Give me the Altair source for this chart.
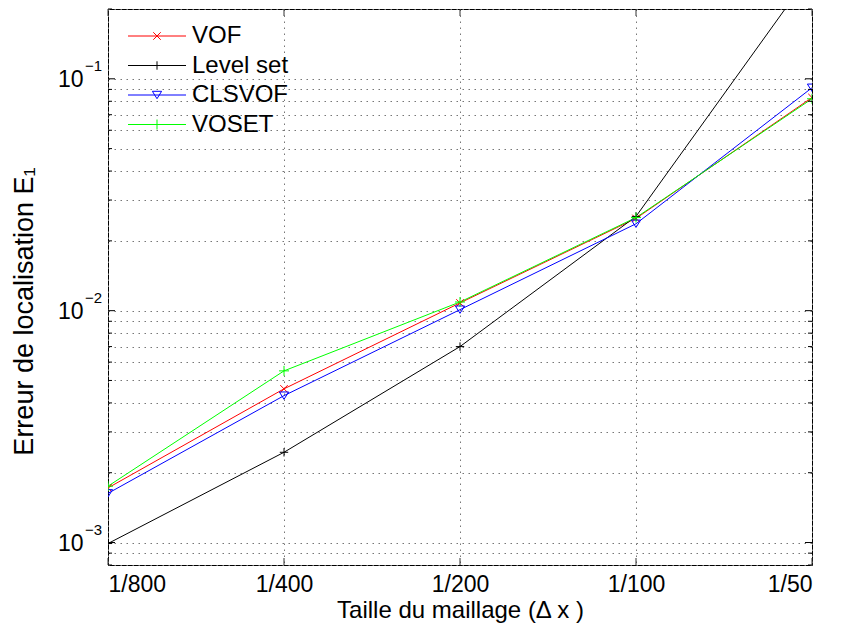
import altair as alt
import pandas as pd

# ---- data ----
X_VALUES = [1/800, 1/400, 1/200, 1/100, 1/50]
SERIES = ["VOF", "Level set", "CLSVOF", "VOSET"]
VOF = [0.00172, 0.0046, 0.0108, 0.0250, 0.0830]
LEVEL_SET = [0.00099, 0.00245, 0.0070, 0.0255, 0.29]
CLSVOF = [0.00163, 0.0043, 0.0101, 0.0237, 0.0915]
VOSET = [0.00175, 0.0055, 0.0109, 0.0252, 0.0820]

COLORS = ["#ff0000", "#000000", "#0000ff", "#00ff00"]
SHAPES = ["M-1,-1L1,1M-1,1L1,-1", "M-1,0L1,0M0,-1L0,1",
          "M-1,-0.8L1,-0.8L0,0.8Z", "M-1,0L1,0M0,-1L0,1"]
SIZES = [56, 100, 121, 100]

Y_MAJOR = [0.001, 0.01, 0.1]
Y_EXP = ["\u22123", "\u22122", "\u22121"]
Y_MINOR = [0.0008, 0.0009,
           0.002, 0.003, 0.004, 0.005, 0.006, 0.007, 0.008, 0.009,
           0.02, 0.03, 0.04, 0.05, 0.06, 0.07, 0.08, 0.09, 0.2]
X_DOMAIN = [1/800, 1/50]
Y_DOMAIN = [0.0008, 0.2]

W, H = 704, 556
FONT = "Liberation Sans"

rows = []
for name, vals in zip(SERIES, [VOF, LEVEL_SET, CLSVOF, VOSET]):
    for xv, yv in zip(X_VALUES, vals):
        rows.append({"x": xv, "y": yv, "series": name})
df = pd.DataFrame(rows)

x_scale = alt.Scale(type="log", base=2, domain=X_DOMAIN, nice=False)
y_scale = alt.Scale(type="log", domain=Y_DOMAIN, nice=False)
color = alt.Color("series:N", scale=alt.Scale(domain=SERIES, range=COLORS), legend=None)
shape = alt.Shape("series:N", scale=alt.Scale(domain=SERIES, range=SHAPES), legend=None)
size = alt.Size("series:N", scale=alt.Scale(domain=SERIES, range=SIZES), legend=None)

x_axis = alt.Axis(values=X_VALUES, labelExpr="'1/' + round(1/datum.value)",
                  grid=True, ticks=False, domain=False, labelFont=FONT, labelFontSize=23,
                  labelColor="black", labelPadding=8,
                  title="Taille du maillage (\u0394 x )", titleFont=FONT, titleFontSize=24,
                  titleFontWeight="normal", titleColor="black", titleX=352, titleY=52,
                  titleAlign="center", titleBaseline="alphabetic")
y_axis = alt.Axis(values=Y_MAJOR + Y_MINOR, labels=False, ticks=False, domain=False, grid=True,
                  title="Erreur de localisation E\u2081", titleFont=FONT, titleFontSize=27,
                  titleFontWeight="normal", titleColor="black", titleX=-76, titleY=302,
                  titleAlign="center", titleBaseline="alphabetic", titleAngle=270)

lines = alt.Chart(df).mark_line(strokeWidth=1, clip=True).encode(
    x=alt.X("x:Q", scale=x_scale, axis=x_axis),
    y=alt.Y("y:Q", scale=y_scale, axis=y_axis),
    color=color,
    detail="series:N",
)
points = alt.Chart(df).mark_point(filled=False, strokeWidth=1, opacity=1, clip=True).encode(
    x=alt.X("x:Q", scale=x_scale),
    y=alt.Y("y:Q", scale=y_scale),
    color=color, shape=shape, size=size,
)

ymaj = pd.DataFrame({"y": Y_MAJOR, "exp": Y_EXP})
ymin = pd.DataFrame({"y": Y_MINOR})
xt = pd.DataFrame({"x": X_VALUES})

def ytick(data, x0, x1):
    return alt.Chart(data).mark_rule(color="black", strokeWidth=1).encode(
        y=alt.Y("y:Q", scale=y_scale), x=alt.value(x0), x2=alt.value(x1))

def xtick(y0, y1):
    return alt.Chart(xt).mark_rule(color="#333333", strokeWidth=1).encode(
        x=alt.X("x:Q", scale=x_scale), y=alt.value(y0), y2=alt.value(y1))

ticks = [ytick(ymaj, 0, 7), ytick(ymaj, W - 7, W), ytick(ymin, 0, 4), ytick(ymin, W - 4, W),
         xtick(H - 7, H), xtick(0, 7)]

lab10 = alt.Chart(ymaj).mark_text(align="right", baseline="alphabetic", dy=8.5,
                                  font=FONT, fontSize=23, color="black").encode(
    y=alt.Y("y:Q", scale=y_scale), x=alt.value(-24.5), text=alt.value("10"))
labexp = alt.Chart(ymaj).mark_text(align="left", baseline="alphabetic", dy=-8,
                                   font=FONT, fontSize=15, color="black").encode(
    y=alt.Y("y:Q", scale=y_scale), x=alt.value(-23), text="exp:N")

main = alt.layer(lines, points, *ticks, lab10, labexp)

# ---- legend (top-left, no box) ----
leg = pd.DataFrame({"series": SERIES})
leg_y = alt.Y("series:N", sort=SERIES, axis=None,
              scale=alt.Scale(type="point", range=[27, 115.5], padding=0))
leg_rule = alt.Chart(leg).mark_rule(strokeWidth=1).encode(
    y=leg_y, x=alt.value(20), x2=alt.value(78), color=color)
leg_pt = alt.Chart(leg).mark_point(filled=False, strokeWidth=1, opacity=1).encode(
    y=leg_y, x=alt.value(49), color=color, shape=shape, size=size)
leg_txt = alt.Chart(leg).mark_text(align="left", baseline="middle", font=FONT, fontSize=24,
                                   color="black").encode(
    y=leg_y, x=alt.value(84), text="series:N")
legend = alt.layer(leg_rule, leg_pt, leg_txt)

chart = alt.layer(main, legend).resolve_scale(y="independent").properties(
    width=W, height=H,
    autosize=alt.AutoSizeParams(type="none"),
    padding={"left": 100, "top": 1, "right": 21, "bottom": 60},
    background="white",
).configure_view(stroke="black", strokeWidth=1).configure_axis(
    gridColor="#777777", gridDash=[1.5, 4.5], gridWidth=1, gridOpacity=1
)

chart.save("out.html", embed_options={"renderer": "svg", "actions": False})
